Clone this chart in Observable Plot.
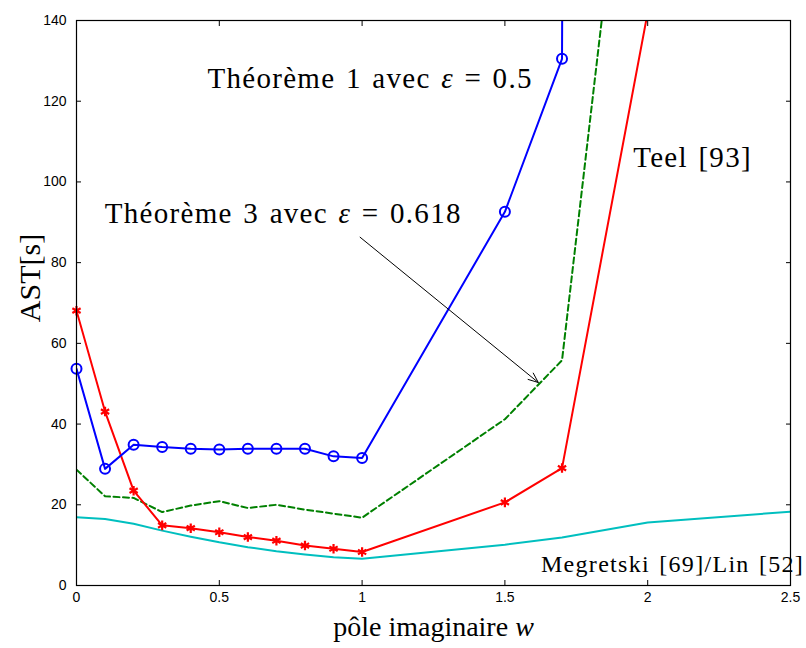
<!DOCTYPE html>
<html>
<head>
<meta charset="utf-8">
<script src="https://cdn.jsdelivr.net/npm/d3@7"></script>
<script src="https://cdn.jsdelivr.net/npm/@observablehq/plot@0.6"></script>
<style>
  html, body { margin: 0; padding: 0; background: white; }
</style>
</head>
<body>
<div id="chart"></div>
<script>
// x positions (pôle imaginaire w)
const w = [0, 0.1, 0.2, 0.3, 0.4, 0.5, 0.6, 0.7, 0.8, 0.9, 1.0, 1.5, 1.7];

// Théorème 1 avec ε = 0.5 (blue, circles); last point runs off the top
const thm1X = [...w, 1.8];
const thm1Y = [53.7, 28.9, 34.9, 34.3, 33.9, 33.7, 33.9, 33.9, 33.9, 32.0, 31.6, 92.6, 130.5, 2000];

// Teel [93] (red, asterisks)
const teelX = [...w, 2.0];
const teelY = [68.1, 43.1, 23.5, 14.9, 14.2, 13.2, 12.0, 11.1, 9.9, 9.1, 8.3, 20.6, 29.1, 142];

// Théorème 3 avec ε = 0.618 (green dashed)
const thm3X = [...w, 1.9];
const thm3Y = [28.7, 22.1, 21.7, 18.2, 19.8, 20.9, 19.2, 20.0, 18.8, 17.8, 16.8, 41.2, 55.8, 177];

// Megretski [69]/Lin [52] (cyan)
const megX = [0, 0.1, 0.2, 0.3, 0.4, 0.5, 0.6, 0.7, 0.8, 0.9, 1.0, 1.5, 1.7, 2.0, 2.5];
const megY = [16.9, 16.5, 15.3, 13.6, 12.1, 10.7, 9.5, 8.5, 7.7, 7.0, 6.6, 10.1, 11.9, 15.6, 18.3];

// ticks
const xTicks = [0, 0.5, 1, 1.5, 2, 2.5];
const yTicks = [0, 20, 40, 60, 80, 100, 120, 140];

// annotations
const labelText = ["Théorème 1 avec ε = 0.5", "Théorème 3 avec ε = 0.618", "Teel [93]", "Megretski [69]/Lin [52]"];
const labelX = [1.028, 0.724, 2.157, 2.087];
const labelY = [125.6, 92.0, 106.0, 5.3];
const labelSize = [29, 29, 29, 24];

const arrowX1 = [0.993], arrowY1 = [86.3], arrowX2 = [1.617], arrowY2 = [50.3];

const xLabel = "pôle imaginaire w";
const yLabel = "AST[s]";

const toRows = (X, Y) => X.map((x, i) => ({x, y: Y[i]}));
const thm1 = toRows(thm1X, thm1Y);
const teel = toRows(teelX, teelY);
const thm3 = toRows(thm3X, thm3Y);
const meg = toRows(megX, megY);
const labels = labelText.map((t, i) => ({t, x: labelX[i], y: labelY[i], s: labelSize[i]}));
const arrows = arrowX1.map((x1, i) => ({x1, y1: arrowY1[i], x2: arrowX2[i], y2: arrowY2[i]}));
const inView = d => d.y <= 140;

const serif = "'Liberation Serif', 'DejaVu Serif', serif";

const chart = Plot.plot({
  width: 806,
  height: 648,
  marginLeft: 76,
  marginRight: 16,
  marginTop: 20,
  marginBottom: 63,
  x: {domain: [0, 2.5]},
  y: {domain: [0, 140]},
  style: {fontFamily: "'Liberation Sans', Arial, sans-serif", fontSize: "14px", background: "white", overflow: "visible", color: "black"},
  marks: [
    Plot.line(meg, {x: "x", y: "y", stroke: "#00bfbf", strokeWidth: 2, clip: true}),
    Plot.line(thm3, {x: "x", y: "y", stroke: "#008000", strokeWidth: 2, strokeDasharray: "6,3.5", clip: true}),
    Plot.line(teel, {x: "x", y: "y", stroke: "#ff0000", strokeWidth: 2, clip: true}),
    Plot.dot(teel, {x: "x", y: "y", filter: inView, symbol: "asterisk", r: 4.5, stroke: "#ff0000", strokeWidth: 2.2}),
    Plot.line(thm1, {x: "x", y: "y", stroke: "#0000ff", strokeWidth: 2, clip: true}),
    Plot.dot(thm1, {x: "x", y: "y", filter: inView, symbol: "circle", r: 5, stroke: "#0000ff", fill: "none", strokeWidth: 2}),
    Plot.arrow(arrows, {x1: "x1", y1: "y1", x2: "x2", y2: "y2", stroke: "black", strokeWidth: 1, headLength: 16, headAngle: 45}),
    Plot.text(labels, {x: "x", y: "y", text: "t", fontSize: "s", fontFamily: serif, fill: "black", textAnchor: "middle"}),
    Plot.frame({stroke: "black", strokeWidth: 1.2}),
    Plot.axisX({ticks: xTicks, tickSize: -5, tickPadding: 12, tickFormat: d => String(d), label: null}),
    Plot.axisX({anchor: "top", ticks: xTicks, tickSize: -5, tickFormat: () => "", label: null}),
    Plot.axisY({ticks: yTicks, tickSize: -5, tickPadding: 15, tickFormat: d => String(d), label: null}),
    Plot.axisY({anchor: "right", ticks: yTicks, tickSize: -5, tickFormat: () => "", label: null}),
    Plot.text([xLabel], {frameAnchor: "bottom", dy: 50, fontSize: 28, fontFamily: serif, fill: "black"}),
    Plot.text([yLabel], {frameAnchor: "left", textAnchor: "middle", dx: -46, dy: -25, rotate: -90, fontSize: 30, fontFamily: serif, fill: "black"})
  ]
});

// wider spacing for the serif annotations (LaTeX-like)
chart.querySelectorAll("text").forEach(t => {
  if (labelText.includes(t.textContent)) {
    t.setAttribute("letter-spacing", "1.3");
    t.setAttribute("word-spacing", "2");
  }
});

// italicize math symbols (ε, w) within the serif texts
function italicize(svg, token, matchWhole) {
  svg.querySelectorAll("text").forEach(t => {
    if (t.querySelector("tspan")) return;
    const s = t.textContent;
    if (!s.includes(token)) return;
    let idx;
    if (matchWhole) {
      if (!s.endsWith(" " + token)) return;
      idx = s.length - token.length;
    } else idx = s.indexOf(token);
    const before = s.slice(0, idx), after = s.slice(idx + token.length);
    t.textContent = "";
    const ns = "http://www.w3.org/2000/svg";
    const a = document.createElementNS(ns, "tspan"); a.textContent = before;
    const b = document.createElementNS(ns, "tspan"); b.textContent = token; b.setAttribute("font-style", "italic");
    const c = document.createElementNS(ns, "tspan"); c.textContent = after;
    t.appendChild(a); t.appendChild(b); if (after) t.appendChild(c);
  });
}
italicize(chart, "ε", false);
italicize(chart, "w", true);

document.getElementById("chart").appendChild(chart);
</script>
</body>
</html>
